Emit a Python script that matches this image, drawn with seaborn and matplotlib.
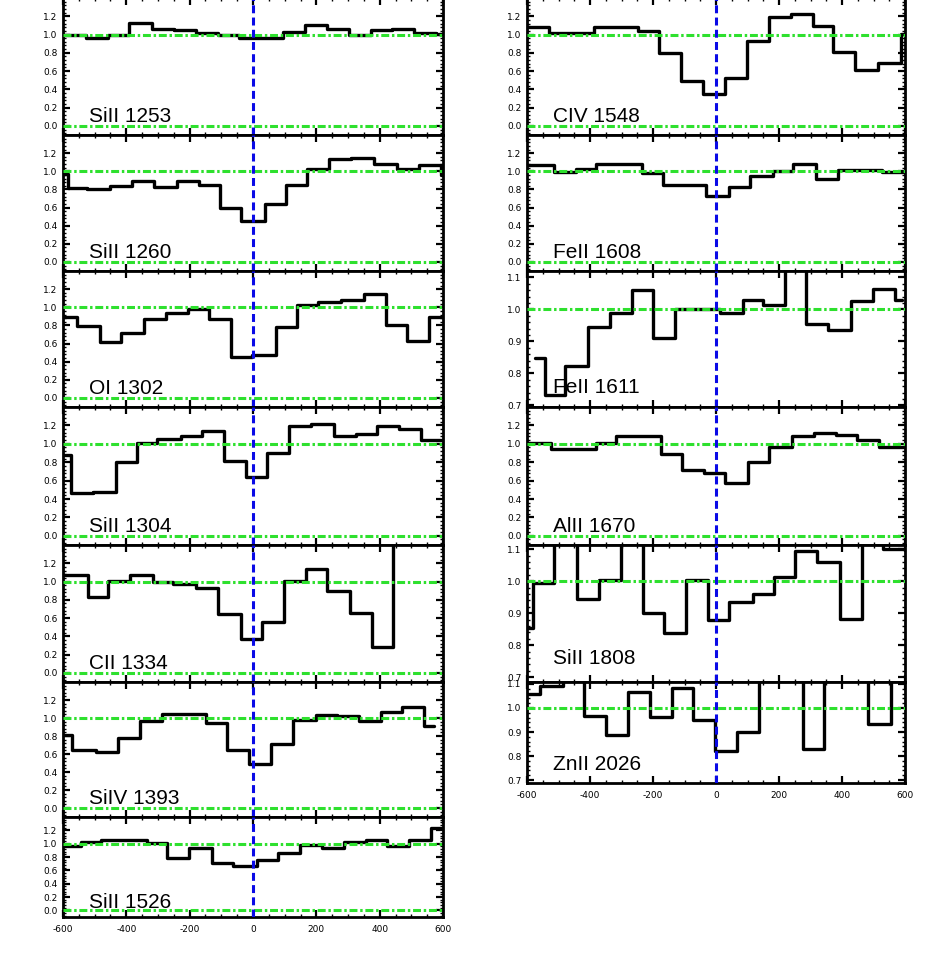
import matplotlib
matplotlib.use("Agg")
import matplotlib.pyplot as plt
import pandas as pd
import seaborn as sns
from matplotlib.ticker import MultipleLocator, FormatStrFormatter

sns.set_style("ticks")
plt.rcParams['font.family'] = ['DejaVu Sans']
plt.rcParams['axes.unicode_minus'] = False
plt.rcParams['text.color'] = 'black'
plt.rcParams['axes.edgecolor'] = 'black'
plt.rcParams['xtick.color'] = 'black'
plt.rcParams['ytick.color'] = 'black'

# velocity bin edges (km/s) and normalised flux in each bin
sill1253_v = [-600, -528, -458, -390, -320, -250, -180, -112, -44, 26, 96, 164, 234, 304, 372, 440, 508, 578, 600]
sill1253_f = [1.00, 0.96, 1.00, 1.13, 1.06, 1.05, 1.02, 0.99, 0.96, 0.96, 1.03, 1.10, 1.06, 1.00, 1.05, 1.06, 1.02, 1.01]

sill1260_v = [-600, -583, -523, -451, -383, -314, -240, -172, -103, -39, 38, 103, 172, 240, 308, 382, 456, 524, 593, 600]
sill1260_f = [0.97, 0.82, 0.80, 0.84, 0.89, 0.83, 0.89, 0.85, 0.60, 0.45, 0.64, 0.85, 1.02, 1.13, 1.15, 1.08, 1.03, 1.07, 0.96]

oi1302_v = [-600, -555, -483, -416, -344, -274, -204, -139, -71, -2, 72, 138, 205, 277, 351, 419, 487, 556, 600]
oi1302_f = [0.89, 0.79, 0.62, 0.72, 0.87, 0.94, 0.98, 0.87, 0.45, 0.47, 0.78, 1.03, 1.06, 1.08, 1.15, 0.80, 0.63, 0.89]

sill1304_v = [-600, -576, -504, -434, -367, -302, -228, -160, -92, -23, 45, 114, 182, 256, 324, 393, 461, 532, 600]
sill1304_f = [0.88, 0.47, 0.48, 0.80, 1.01, 1.05, 1.09, 1.14, 0.81, 0.64, 0.90, 1.19, 1.22, 1.09, 1.11, 1.19, 1.16, 1.04]

cii1334_v = [-600, -521, -458, -389, -316, -252, -179, -111, -39, 29, 98, 166, 235, 305, 375, 443, 600]
cii1334_f = [1.07, 0.83, 1.01, 1.07, 0.99, 0.97, 0.93, 0.64, 0.37, 0.56, 1.01, 1.14, 0.90, 0.66, 0.28, 1.60]

siiv1393_v = [-600, -571, -497, -426, -357, -286, -218, -149, -81, -13, 56, 127, 198, 266, 335, 403, 472, 540, 572]
siiv1393_f = [0.81, 0.64, 0.62, 0.78, 0.97, 1.05, 1.05, 0.95, 0.64, 0.49, 0.71, 0.98, 1.03, 1.02, 0.97, 1.07, 1.12, 0.91]

sill1526_v = [-600, -544, -481, -407, -336, -271, -202, -131, -62, 12, 80, 148, 219, 287, 356, 424, 493, 561, 600]
sill1526_f = [0.97, 1.03, 1.05, 1.06, 1.01, 0.79, 0.93, 0.71, 0.66, 0.75, 0.86, 0.98, 0.93, 1.03, 1.05, 0.97, 1.05, 1.23]

civ1548_v = [-600, -529, -458, -386, -317, -248, -180, -111, -42, 30, 97, 167, 238, 307, 372, 442, 513, 587, 600]
civ1548_f = [1.08, 1.02, 1.02, 1.08, 1.08, 1.04, 0.80, 0.49, 0.35, 0.52, 0.93, 1.19, 1.23, 1.09, 0.81, 0.61, 0.69, 1.01]

feii1608_v = [-600, -513, -444, -381, -308, -235, -169, -100, -32, 40, 109, 180, 245, 317, 386, 455, 526, 600]
feii1608_f = [1.07, 0.99, 1.03, 1.08, 1.08, 0.98, 0.85, 0.85, 0.73, 0.83, 0.95, 1.00, 1.08, 0.91, 1.01, 1.01, 0.99]

feii1611_v = [-576, -544, -478, -407, -338, -266, -199, -129, -58, 13, 85, 148, 220, 285, 354, 428, 497, 569, 592]
feii1611_f = [0.848, 0.733, 0.822, 0.944, 0.990, 1.062, 0.910, 1.000, 1.000, 0.988, 1.030, 1.013, 1.200, 0.954, 0.937, 1.027, 1.065, 1.030]

alii1670_v = [-600, -523, -452, -381, -317, -248, -174, -108, -39, 30, 100, 169, 241, 312, 381, 449, 518, 600]
alii1670_f = [1.01, 0.94, 0.94, 1.01, 1.08, 1.09, 0.89, 0.72, 0.68, 0.57, 0.80, 0.96, 1.08, 1.12, 1.10, 1.04, 0.96]

sill1808_v = [-600, -581, -513, -442, -372, -301, -233, -166, -95, -26, 42, 116, 185, 252, 322, 393, 462, 529, 600]
sill1808_f = [0.853, 0.993, 1.200, 0.944, 1.003, 1.200, 0.902, 0.839, 1.003, 0.878, 0.934, 0.961, 1.012, 1.094, 1.059, 0.882, 1.200, 1.100]

znii2026_v = [-600, -560, -486, -420, -349, -280, -208, -140, -72, -2, 67, 135, 205, 275, 344, 414, 483, 555, 600]
znii2026_f = [1.059, 1.092, 1.200, 0.967, 0.888, 1.068, 0.961, 1.082, 0.950, 0.822, 0.900, 1.200, 1.200, 0.829, 1.200, 1.200, 0.934, 1.200]

left_panels = [("SiII 1253", sill1253_v, sill1253_f),
               ("SiII 1260", sill1260_v, sill1260_f),
               ("OI 1302", oi1302_v, oi1302_f),
               ("SiII 1304", sill1304_v, sill1304_f),
               ("CII 1334", cii1334_v, cii1334_f),
               ("SiIV 1393", siiv1393_v, siiv1393_f),
               ("SiII 1526", sill1526_v, sill1526_f)]
right_panels = [("CIV 1548", civ1548_v, civ1548_f),
                ("FeII 1608", feii1608_v, feii1608_f),
                ("FeII 1611", feii1611_v, feii1611_f),
                ("AlII 1670", alii1670_v, alii1670_f),
                ("SiII 1808", sill1808_v, sill1808_f),
                ("ZnII 2026", znii2026_v, znii2026_f)]

# panel limits in pixels (top, bottom) and zoomed y ranges
left_rows = [(-2, 135), (135, 271), (271, 407), (407, 545), (545, 682), (682, 817), (817, 917)]
right_rows = [(-2, 135), (135, 271), (271, 407), (407, 545), (545, 682), (682, 783)]
zoom_ylim = {"FeII 1611": (0.695, 1.12), "SiII 1808": (0.685, 1.113), "ZnII 2026": (0.688, 1.108)}

W, H = 927, 955
GREEN = '#2ee02e'
BLUE = '#0a0ae6'

fig = plt.figure(figsize=(W / 100, H / 100), dpi=100)


def draw_panel(x0, x1, y0, y1, name, v, f, last):
    ax = fig.add_axes([x0 / W, 1 - y1 / H, (x1 - x0) / W, (y1 - y0) / H])
    df = pd.DataFrame({'v': v, 'flux': list(f) + [f[-1]]})
    sns.lineplot(data=df, x='v', y='flux', ax=ax, color='black', lw=2.4,
                 drawstyle='steps-post', estimator=None, sort=False, zorder=2)
    ax.axhline(1.0, color=GREEN, lw=2.2, ls=(0, (2.6, 0.9, 0.8, 0.9)), zorder=3)
    ax.axhline(0.0, color=GREEN, lw=2.2, ls=(0, (2.6, 0.9, 0.8, 0.9)), zorder=3)
    ax.axvline(0.0, color=BLUE, lw=2.2, ls=(0, (2.6, 1.4)), zorder=4)
    ax.set_xlim(-600, 600)
    if name in zoom_ylim:
        ax.set_ylim(*zoom_ylim[name])
        ax.set_yticks([0.7, 0.8, 0.9, 1.0, 1.1])
        ax.yaxis.set_minor_locator(MultipleLocator(0.02))
        ylab = 0.74
    else:
        ax.set_ylim(-0.1, 1.4)
        ax.set_yticks([0.0, 0.2, 0.4, 0.6, 0.8, 1.0, 1.2])
        ax.yaxis.set_minor_locator(MultipleLocator(0.04))
        ylab = 0.04
    ax.yaxis.set_major_formatter(FormatStrFormatter('%.1f'))
    ax.set_xticks([-600, -400, -200, 0, 200, 400, 600])
    ax.xaxis.set_minor_locator(MultipleLocator(50))
    ax.set_xlabel('')
    ax.set_ylabel('')
    for s in ax.spines.values():
        s.set_linewidth(2)
        s.set_color('black')
        s.set_visible(True)
    ax.tick_params(which='both', direction='in', top=True, right=True,
                   labelsize=6.5, pad=4, colors='black')
    ax.tick_params(which='major', length=5, width=1.6)
    ax.tick_params(which='minor', length=2.5, width=1.0)
    ax.tick_params(axis='x', labelbottom=last, pad=6)
    ax.text(-518, ylab, name, fontsize=15, family='Liberation Sans',
            color='black', va='baseline', ha='left', zorder=5)
    ax.set_facecolor('white')
    return ax


for i, ((name, v, f), (y0, y1)) in enumerate(zip(left_panels, left_rows)):
    draw_panel(63, 443, y0, y1, name, v, f, i == len(left_panels) - 1)

for i, ((name, v, f), (y0, y1)) in enumerate(zip(right_panels, right_rows)):
    draw_panel(527, 905, y0, y1, name, v, f, i == len(right_panels) - 1)

fig.savefig('out.png', dpi=100, facecolor='white')
